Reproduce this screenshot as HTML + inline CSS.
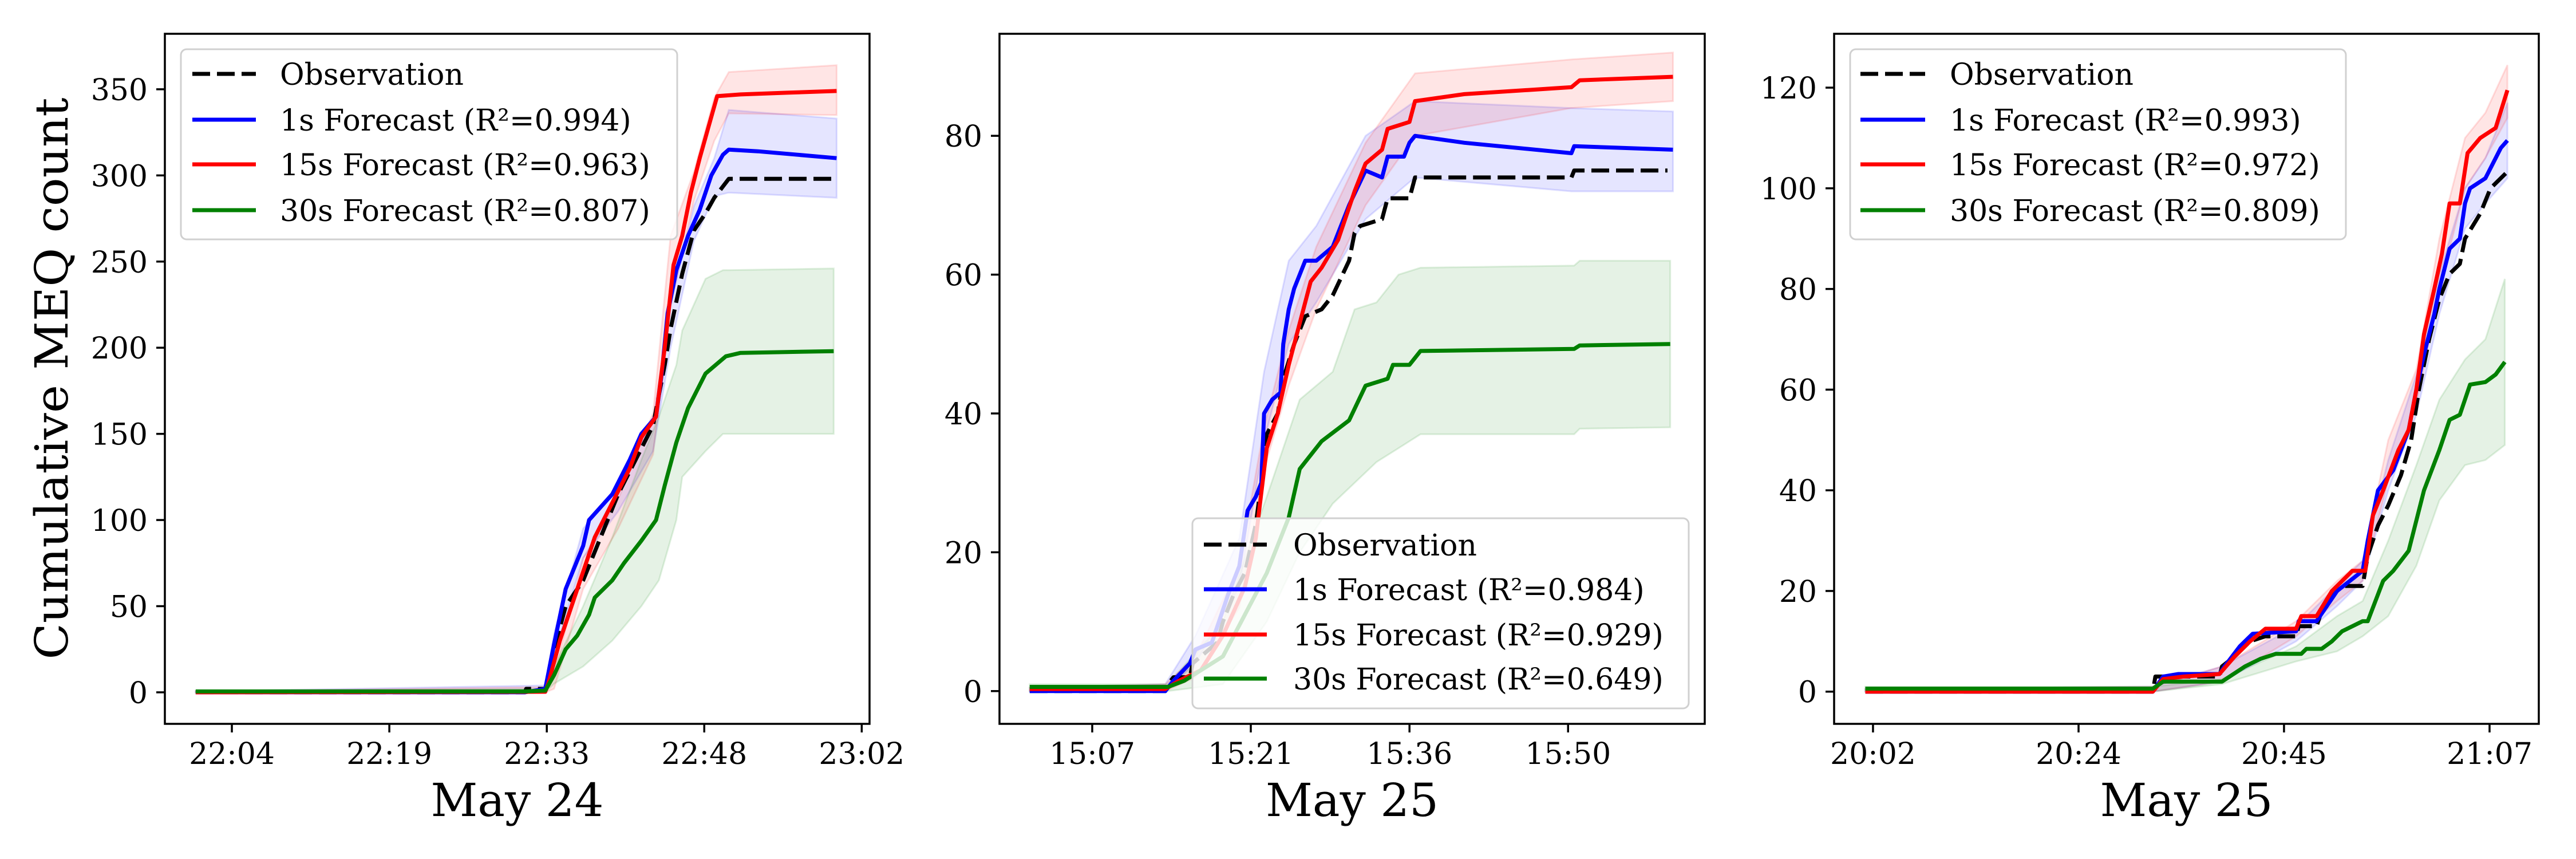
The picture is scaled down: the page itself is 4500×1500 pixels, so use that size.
<!DOCTYPE html>
<html><head><meta charset="utf-8"><title>Cumulative MEQ count forecasts</title>
<style>
html,body{margin:0;padding:0;background:#fff;}
svg{display:block;}
text{font-family:"DejaVu Serif","Liberation Serif",serif;fill:#000;}
</style></head>
<body>
<svg id="chart" width="4500" height="1500" viewBox="0 0 4500 1500" xmlns="http://www.w3.org/2000/svg"></svg>
<script>
// ---------- Panel 1 data (minutes relative to first tick) ----------
const p1TickLabels = ["22:04","22:19","22:33","22:48","23:02"];
const p1TickT = [0,14.5,29,43.5,58];
const p1YTicks = [0,50,100,150,200,250,300,350];
const p1ObsT = [-3.33,26.98,27.1,28.86,29.67,30.74,32.35,33.96,35.57,37.18,38.79,39.86,40.40,41.47,42.54,43.62,44.42,45.76,55.69];
const p1ObsV = [0,0,2,2,25,50,65,90,115,135,155,190,211,243,268,278,287,298,298];
const p1BlueT = [-3.33,26.98,28.86,29.67,30.74,32.35,32.89,35.03,36.64,37.71,39.06,39.59,40.13,40.93,42.01,43.08,44.15,45.22,45.76,48.44,55.69];
const p1BlueV = [0,0,2,28,60,85,100,115,135,150,160,185,220,245,265,280,300,312,315,314,310];
const p1RedT = [-3.33,28.86,29.13,30.20,31.28,32.35,33.42,35.03,36.64,37.71,39.06,39.86,40.67,41.47,42.27,43.08,43.88,44.69,46.84,51.13,55.69];
const p1RedV = [0,0.3,5,30,50,70,90,110,130,148,160,200,248,265,290,310,328,346,347,348,349];
const p1GreenT = [-3.33,26.98,28.86,29.67,30.74,31.81,32.89,33.42,35.03,36.11,37.71,39.06,39.86,40.93,42.01,43.62,45.49,46.84,55.42];
const p1GreenV = [0.5,0.5,1,10,25,33,45,55,65,75,88,100,120,145,165,185,195,197,198];
const p1BandT = [-3.33,28.86,29.67,32.35,35.57,38.79,40.40,42.54,44.42,45.76,55.69];
const p1BlueLo = [0,0,22,78,105,140,200,262,288,290,287];
const p1BlueHi = [0.5,4,34,95,120,158,225,282,310,338,333];
const p1RedLo = [0,0,2,60,95,138,225,285,320,336,335];
const p1RedHi = [0.5,3,10,78,112,162,265,302,345,360,364];
const p1GreenBandT = [-3.33,28.86,29.67,32.35,35.03,37.71,39.32,40.93,41.47,43.62,45.22,55.42];
const p1GreenLo = [0,0,5,15,30,50,65,100,125,140,150,150];
const p1GreenHi = [1,2,15,50,90,135,160,190,210,240,245,246];

// ---------- Panel 2 data ----------
const p2TickLabels = ["15:07","15:21","15:36","15:50"];
const p2TickT = [0,14.33,28.67,43];
const p2YTicks = [0,20,40,60,80];
const p2ObsT = [-5.65,6.60,6.85,7.34,8.83,9.08,9.82,11.31,11.81,12.80,13.79,14.78,15.28,15.77,16.77,17.26,18.25,19.25,20.73,21.73,23.21,23.71,24.21,26.19,26.69,28.67,29.17,43.30,43.55,51.98];
const p2ObsV = [0,0,1,2,2,4,5,7,10,14,17,24,30,37,40,45,50,54,55,57,62,66,67,68,71,71,74,74,75,75];
const p2BlueT = [-5.65,6.60,7.34,8.83,9.33,10.81,12.30,13.29,14.04,14.78,15.28,15.53,16.27,17.01,17.26,17.76,18.25,19.25,20.24,21.73,23.21,24.70,26.19,26.69,28.17,28.67,29.17,33.63,43.30,43.55,52.48];
const p2BlueV = [0,0,1.5,4,6,7,14,18,26,28,30,40,42,43,50,55,58,62,62,64,70,75,74,77,77,79,80,79,77.5,78.5,78];
const p2RedT = [-5.65,6.60,7.84,9.82,11.81,13.79,14.78,15.77,16.77,17.76,18.75,19.74,20.73,22.22,23.71,24.70,26.19,26.69,28.67,29.17,33.63,43.30,44.05,52.48];
const p2RedV = [0.3,0.3,1.5,3,8,15,22,35,40,47,53,59,61,65,72,76,78,81,82,85,86,87,88,88.5];
const p2GreenT = [-5.65,6.85,8.33,9.82,11.81,13.79,15.77,17.76,18.75,19.74,20.73,23.21,24.70,26.69,27.18,28.67,29.66,43.55,44.05,52.23];
const p2GreenV = [0.6,0.6,1.5,3,5,11,17,25,32,34,36,39,44,45,47,47,49,49.3,49.8,50];
const p2BandT = [-5.65,6.6,9.33,13.29,15.53,17.76,20.24,24.70,29.17,43.30,52.48];
const p2BlueLo = [0,0,4,15,36,50,56,68,74,72,72];
const p2BlueHi = [0.5,1,8,22,46,62,67,80,85,84,83.5];
const p2RedLo = [0,0,2,12,32,44,55,70,80,84,85];
const p2RedHi = [0.5,1,5,18,38,52,64,79,89,91,92];
const p2GreenBandT = [-5.65,6.85,11.81,15.77,18.75,21.73,23.71,25.69,27.68,29.66,43.55,44.05,52.23];
const p2GreenLo = [0,0,1,10,20,27,30,33,35,37,37,37.8,38];
const p2GreenHi = [1,1,10,28,42,46,55,56,60,61,61.3,62,62];

// ---------- Panel 3 data ----------
const p3TickLabels = ["20:02","20:24","20:45","21:07"];
const p3TickT = [0,21.67,43.33,65];
const p3YTicks = [0,20,40,60,80,100,120];
const p3ObsT = [-0.81,29.50,29.77,36.52,36.79,38.13,39.75,41.37,44.61,44.88,46.76,47.30,48.92,49.46,51.62,52.16,53.24,54.32,55.66,56.74,57.55,58.63,59.71,60.79,61.87,62.41,64.02,65.10,66.72];
const p3ObsV = [0,0,3,3,5,7,10,11,11,13,13,16,20,21,21,27,33,37,43,50,60,70,78,83,85,90,95,100,103];
const p3BlueT = [-0.81,29.50,30.58,32.20,36.52,37.06,38.67,40.02,44.61,44.88,46.76,48.92,51.62,52.16,53.24,54.85,56.47,57.28,58.09,59.17,59.71,60.79,61.87,62.41,62.94,64.56,66.18,66.88];
const p3BlueV = [0,0,3,3.5,3.5,5,9,11.5,12,14,14,20,24,30,40,44,52,60,67,75,80,88,90,97,100,102,108,109.5];
const p3RedT = [-0.81,29.50,30.58,32.74,36.52,38.13,39.75,41.37,44.61,45.15,46.76,48.38,50.54,51.89,52.70,53.78,55.39,56.47,57.28,58.09,59.17,59.98,60.79,61.87,62.68,64.02,65.64,66.88];
const p3RedV = [0,0,2.5,3,3.5,7,10,12.5,12.5,15,15,20,24,24,35,40,48,52,60,71,80,87,97,97,107,110,112,119.5];
const p3GreenT = [-0.81,29.50,30.58,36.79,39.21,40.83,42.45,45.15,45.69,47.30,48.38,49.46,51.62,52.16,53.78,54.85,56.47,58.09,59.71,60.79,61.87,62.94,64.56,65.64,66.61];
const p3GreenV = [0.6,0.6,2,2,5,6.5,7.5,7.5,8.5,8.5,10,12,14,14,22,24,28,40,48,54,55,61,61.5,63,65.5];
const p3BandT = [-0.81,29.5,36.79,44.61,48.92,51.62,54.32,57.28,59.71,62.41,64.56,66.88];
const p3BlueLo = [0,0,2,10,17,22,40,55,75,92,97,102];
const p3BlueHi = [0.5,1,5,13,21,26,46,63,83,100,106,117];
const p3RedLo = [0,0,2,11,18,22,42,57,80,100,106,114];
const p3RedHi = [0.5,1,5,14,22,26,50,64,90,110,115,124.5];
const p3GreenBandT = [-0.81,29.5,36.79,44.61,48.92,51.62,54.32,57.28,59.71,62.41,64.56,66.61];
const p3GreenLo = [0,0,1.5,6,8,11,15,25,38,45,46,49];
const p3GreenHi = [1,1,2.5,9,15,18,30,45,58,66,70,82];

const R2 = [["0.994","0.963","0.807"],["0.984","0.929","0.649"],["0.993","0.972","0.809"]];

const NS = "http://www.w3.org/2000/svg";
const svg = document.getElementById("chart");
function mk(tag, attrs, parent){
  const e = document.createElementNS(NS, tag);
  for (const k in attrs) e.setAttribute(k, attrs[k]);
  (parent||svg).appendChild(e);
  return e;
}

const panels = [
  {L:288,R:1519,xlim:[-6.17,58.72],ylim:[-18.3,382.2],ticksT:p1TickT,ticksL:p1TickLabels,yt:p1YTicks,xlabel:"May 24",
   obs:[p1ObsT,p1ObsV],blue:[p1BlueT,p1BlueV],red:[p1RedT,p1RedV],green:[p1GreenT,p1GreenV],
   blueBand:[p1BandT,p1BlueLo,p1BlueHi],redBand:[p1BandT,p1RedLo,p1RedHi],greenBand:[p1GreenBandT,p1GreenLo,p1GreenHi],
   leg:{x:316,y:86,w:867,h:332,rows:[129,209,287,367],hx1:336,hx2:447,tx:489}},
  {L:1746,R:2978,xlim:[-8.38,55.35],ylim:[-4.72,94.7],ticksT:p2TickT,ticksL:p2TickLabels,yt:p2YTicks,xlabel:"May 25",
   obs:[p2ObsT,p2ObsV],blue:[p2BlueT,p2BlueV],red:[p2RedT,p2RedV],green:[p2GreenT,p2GreenV],
   blueBand:[p2BandT,p2BlueLo,p2BlueHi],redBand:[p2BandT,p2RedLo,p2RedHi],greenBand:[p2GreenBandT,p2GreenLo,p2GreenHi],
   leg:{x:2083,y:905,w:867,h:332,rows:[951,1029,1108,1185],hx1:2103,hx2:2213,tx:2259}},
  {L:3204,R:4435,xlim:[-4.10,70.19],ylim:[-6.4,130.7],ticksT:p3TickT,ticksL:p3TickLabels,yt:p3YTicks,xlabel:"May 25",
   obs:[p3ObsT,p3ObsV],blue:[p3BlueT,p3BlueV],red:[p3RedT,p3RedV],green:[p3GreenT,p3GreenV],
   blueBand:[p3BandT,p3BlueLo,p3BlueHi],redBand:[p3BandT,p3RedLo,p3RedHi],greenBand:[p3GreenBandT,p3GreenLo,p3GreenHi],
   leg:{x:3232,y:86,w:866,h:332,rows:[129,209,287,367],hx1:3250,hx2:3363,tx:3406}}
];
const TOP = 59, BOT = 1264;

panels.forEach((p, pi) => {
  const g = mk("g", {});
  
  
  const sx = t => p.L + (t - p.xlim[0]) / (p.xlim[1] - p.xlim[0]) * (p.R - p.L);
  const sy = v => BOT - (v - p.ylim[0]) / (p.ylim[1] - p.ylim[0]) * (BOT - TOP);
  const clipId = "clip" + pi;
  const cp = mk("clipPath", {id: clipId}, g);
  mk("rect", {x:p.L, y:TOP, width:p.R-p.L, height:BOT-TOP}, cp);
  const plot = mk("g", {"clip-path":"url(#"+clipId+")"}, g);

  function band(b, fill, stroke, name){
    const [T, lo, hi] = b;
    let d = "M";
    for (let i=0;i<T.length;i++) d += (i?" L":"") + sx(T[i]).toFixed(1) + " " + sy(hi[i]).toFixed(1);
    for (let i=T.length-1;i>=0;i--) d += " L" + sx(T[i]).toFixed(1) + " " + sy(lo[i]).toFixed(1);
    d += " Z";
    const e = mk("path", {d:d, fill:fill, "fill-opacity":"0.1", stroke:stroke, "stroke-opacity":"0.12", "stroke-width":"3"}, plot);
    
    
  }
  function line(s, color, name, dash){
    const [T, V] = s;
    const pts = T.map((t,i)=> sx(t).toFixed(1)+","+sy(V[i]).toFixed(1)).join(" ");
    const a = {points:pts, fill:"none", stroke:color, "stroke-width":"7", "stroke-linejoin":"round"};
    if (dash) a["stroke-dasharray"] = "31 12";
    const e = mk("polyline", a, plot);
    
    
  }
  band(p.blueBand, "#0000ff", "#0000ff", "band-1s-forecast");
  band(p.redBand, "#ff0000", "#ff0000", "band-15s-forecast");
  band(p.greenBand, "#008000", "#008000", "band-30s-forecast");
  line(p.obs, "#000", "line-observation", true);
  line(p.blue, "#0000ff", "line-1s-forecast");
  line(p.red, "#ff0000", "line-15s-forecast");
  line(p.green, "#008000", "line-30s-forecast");

  const fr = mk("rect", {x:p.L, y:TOP, width:p.R-p.L, height:BOT-TOP, fill:"none", stroke:"#000", "stroke-width":"3.5"}, g);
  
  

  p.ticksT.forEach((t,i)=>{
    const x = sx(t);
    const tk = mk("line", {x1:x, x2:x, y1:BOT, y2:BOT+15, stroke:"#000", "stroke-width":"3.5"}, g);
    
    
    const tl = mk("text", {x:x, y:1334, "text-anchor":"middle", "font-size":"52"}, g);
    tl.textContent = p.ticksL[i];
    
    
  });
  p.yt.forEach(v=>{
    const y = sy(v);
    const tk = mk("line", {x1:p.L-15, x2:p.L, y1:y, y2:y, stroke:"#000", "stroke-width":"3.5"}, g);
    
    
    const tl = mk("text", {x:p.L-30, y:y+19, "text-anchor":"end", "font-size":"52"}, g);
    tl.textContent = String(v);
    
    
  });
  const xl = mk("text", {x:(p.L+p.R)/2, y:1425, "text-anchor":"middle", "font-size":"80"}, g);
  xl.textContent = p.xlabel;
  
  

  const lg = mk("g", {}, g);
  
  
  const L = p.leg;
  mk("rect", {x:L.x, y:L.y, width:L.w, height:L.h, rx:"10", fill:"#fff", "fill-opacity":"0.8", stroke:"#d0d0d0", "stroke-width":"3"}, lg);
  const entries = [["Observation","#000",true],["1s Forecast (R²="+R2[pi][0]+")","#0000ff"],["15s Forecast (R²="+R2[pi][1]+")","#ff0000"],["30s Forecast (R²="+R2[pi][2]+")","#008000"]];
  entries.forEach((en,i)=>{
    const y = L.rows[i];
    const eg = mk("g", {}, lg);
    
    
    const a = {x1:L.hx1, x2:L.hx2, y1:y, y2:y, stroke:en[1], "stroke-width":"7"};
    if (en[2]) a["stroke-dasharray"] = "31 12";
    mk("line", a, eg);
    const t = mk("text", {x:L.tx, y:y+19, "font-size":"52"}, eg);
    t.textContent = en[0];
  });
});

const yl = mk("text", {x:0, y:0, "text-anchor":"middle", "font-size":"80", transform:"translate(118,661) rotate(-90)", textLength:"981", lengthAdjust:"spacingAndGlyphs"});
yl.textContent = "Cumulative MEQ count";


</script>
</body></html>
